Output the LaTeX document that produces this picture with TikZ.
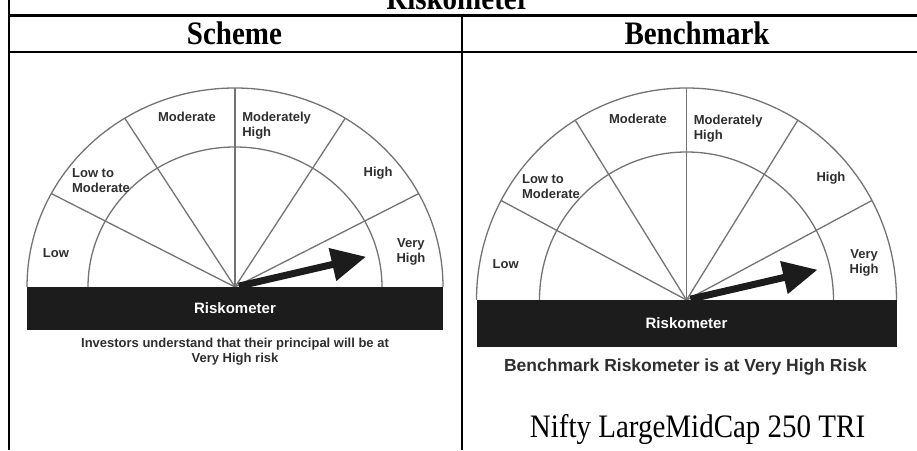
\documentclass[tikz,border=0pt]{standalone}
\usepackage{fontspec}
\setmainfont{Liberation Serif}
\newfontfamily\dialfont{Liberation Sans}
\usetikzlibrary{positioning,calc}

\definecolor{dialgray}{HTML}{737373}
\definecolor{dialtext}{HTML}{2E2E2E}
\definecolor{dialbar}{HTML}{1C1C1C}

\tikzset{
  tabline/.style={line width=2.4pt, draw=black},
  tabtext/.style={font=\fontsize{29}{32}\selectfont, anchor=base, inner sep=0pt},
  tabhead/.style={tabtext, font=\fontsize{29}{32}\selectfont\bfseries},
  dialline/.style={line width=1.3pt, draw=dialgray},
  diallabel/.style={font=\dialfont\bfseries\fontsize{13}{15}\selectfont, text=dialtext, inner sep=0pt},
  barlabel/.style={font=\dialfont\bfseries\fontsize{15}{18}\selectfont, text=white, inner sep=0pt},
}

% table text in the reference is a little taller than wide
\newcommand{\tall}[1]{\scalebox{1}[1.13]{#1}}

% one riskometer dial round the local origin, radii from \ga \gb \ia \ib, bar depth \bh
\newcommand{\dialbody}[1]{%
  \coordinate (#1c) at (0,0);
  \draw[dialline] (\ga,0) arc[start angle=0, end angle=180, x radius=\ga, y radius=\gb];
  \draw[dialline] (\ia,0) arc[start angle=0, end angle=180, x radius=\ia, y radius=\ib];
  \foreach \t in {28,58,90,122,152}
    \draw[dialline] (#1c) -- ({\ga*cos(\t)},{\gb*sin(\t)});
  \fill[dialbar, rotate=13] (4,-3.5) -- (100,-3.5) -- (100,-17) -- (134,0)
    -- (100,17) -- (100,3.5) -- (4,3.5) -- cycle;
  \fill[dialbar] (-\ga,0) rectangle (\ga,-\bh);
  \node[barlabel] (#1bar) at (0,-\bh/2) {Riskometer};
  \node[diallabel] (#1mod) at ({-.231*\ga},{.854*\gb}) {Moderate};
  \node[diallabel, anchor=west, align=left] (#1mh) at ({.034*\ga},{.809*\gb}) {Moderately\\High};
  \node[diallabel, anchor=west, align=left] (#1ltm) at ({-.784*\ga},{.534*\gb}) {Low to\\Moderate};
  \node[diallabel] (#1hi) at ({.688*\ga},{.573*\gb}) {High};
  \node[diallabel] (#1low) at ({-.861*\ga},{.171*\gb}) {Low};
  \node[diallabel, align=center] (#1vh) at ({.846*\ga},{.176*\gb}) {Very\\High};
}

\begin{document}
\begin{tikzpicture}[x=1pt, y=1pt]

    \useasboundingbox (0,0) rectangle (917,450);

    \coordinate (tl) at (8.8,450);
    \coordinate (bl) at (8.8,0);
    \coordinate (mt) at (462,434.5);
    \coordinate (mb) at (462,0);

    % table rules
    \draw[tabline] (bl) -- (tl);
    \draw[tabline] (8.8,434.5) -- (917,434.5);
    \draw[tabline] (8.8,397.7) -- (917,397.7);
    \draw[tabline] (mt) -- (mb);

    \node[tabhead] (head) at (458,440) {\tall{Riskometer}};
    \node[tabhead] (scheme) at (234.5,405) {\tall{Scheme}};
    \node[tabhead] (bench) at (697,405) {\tall{Benchmark}};
    \node[tabtext] (index) at (697.5,13) {\tall{Nifty LargeMidCap 250 TRI}};

    % scheme dial
    \begin{scope}[shift={(235,163)}]
      \def\ga{208}\def\gb{199}\def\ia{147}\def\ib{140}\def\bh{43}
      \dialbody{s}
      \node[diallabel, align=center] (scap) at (0,-65)
        {Investors understand that their principal will be at\\Very High risk};
    \end{scope}

    % benchmark dial
    \begin{scope}[shift={(686.5,150)}]
      \def\ga{210}\def\gb{212}\def\ia{147}\def\ib{148}\def\bh{47}
      \dialbody{b}
      \node[diallabel, font=\dialfont\bfseries\fontsize{17.5}{20}\selectfont] (bcap) at (-1,-67.5)
        {Benchmark Riskometer is at Very High Risk};
    \end{scope}

\end{tikzpicture}
\end{document}
